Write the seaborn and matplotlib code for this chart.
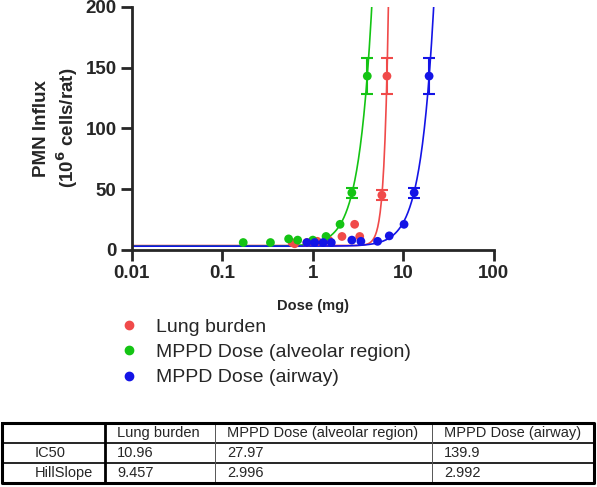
import numpy as np
import pandas as pd
import matplotlib
matplotlib.use("Agg")
import matplotlib.pyplot as plt
import seaborn as sns

# series names and colours
series = ["Lung burden", "MPPD Dose (alveolar region)", "MPPD Dose (airway)"]
colors = ["#F04A4A", "#14C414", "#1414E6"]

lung_x = [0.59, 0.63, 0.86, 1.12, 1.5, 2.1, 2.9, 3.3, 5.8, 6.6]
lung_y = [6, 5, 6, 7, 8, 11, 21, 11, 45, 143]
alv_x = [0.17, 0.34, 0.54, 0.68, 1.0, 1.4, 2.0, 2.7, 4.0]
alv_y = [6, 6, 9, 8, 8, 11, 21, 47, 143]
air_x = [0.86, 1.05, 1.3, 1.6, 2.7, 3.4, 5.2, 7.0, 10.2, 13.2, 19.3]
air_y = [6, 6, 6, 6, 8, 7, 7, 11.5, 21, 47, 143]

# error bars (SEM) on the high-dose groups
err_lung = [0, 0, 0, 0, 0, 0, 0, 0, 4, 15]
err_alv = [0, 0, 0, 0, 0, 0, 0, 4, 15]
err_air = [0, 0, 0, 0, 0, 0, 0, 0, 0, 4, 15]

# Hill fit parameters (IC50 and HillSlope from the table, bottom/top estimated)
ic50 = [10.96, 27.97, 139.9]
hill = [9.457, 2.996, 2.992]
bottom = [3.5, 3.0, 3.0]
top = [17000, 47700, 52300]

table_rows = ["IC50", "HillSlope"]
table_vals = [["10.96", "27.97", "139.9"], ["9.457", "2.996", "2.992"]]

sns.set_style("ticks")
plt.rcParams["font.family"] = ["Liberation Sans", "DejaVu Sans"]

fig = plt.figure(figsize=(5.97, 4.87), dpi=100)
ax = fig.add_axes([0.221, 0.487, 0.606, 0.499])

points = pd.concat([
    pd.DataFrame({"dose": lung_x, "pmn": lung_y, "err": err_lung, "group": series[0]}),
    pd.DataFrame({"dose": alv_x, "pmn": alv_y, "err": err_alv, "group": series[1]}),
    pd.DataFrame({"dose": air_x, "pmn": air_y, "err": err_air, "group": series[2]}),
])

# fitted curves
grid = np.logspace(-2, 2, 600)
curves = []
for name, c50, h, b, t in zip(series, ic50, hill, bottom, top):
    yy = b + (t - b) / (1 + (c50 / grid) ** h)
    curves.append(pd.DataFrame({"dose": grid, "pmn": yy, "group": name}))
curves = pd.concat(curves)
curves = curves[curves["pmn"] < 220]

palette = dict(zip(series, colors))
sns.lineplot(data=curves, x="dose", y="pmn", hue="group", palette=palette,
             linewidth=1.2, legend=False, ax=ax, sort=False, estimator=None,
             units="group")

for name in series:
    d = points[(points["group"] == name) & (points["err"] > 0)]
    ax.errorbar(d["dose"], d["pmn"], yerr=d["err"], fmt="none",
                ecolor=palette[name], elinewidth=1.5, capsize=4, capthick=1.5)

sns.scatterplot(data=points, x="dose", y="pmn", hue="group", palette=palette,
                s=40, edgecolor="none", ax=ax, legend=False, zorder=3)

ax.set_xscale("log")
ax.set_xlim(0.01, 100)
ax.set_ylim(0, 200)
ax.set_xticks([0.01, 0.1, 1, 10, 100])
ax.set_xticklabels(["0.01", "0.1", "1", "10", "100"])
ax.minorticks_off()
ax.set_yticks([0, 50, 100, 150, 200])
sns.despine(ax=ax)
for s in ["left", "bottom"]:
    ax.spines[s].set_linewidth(2)
ax.tick_params(width=2, length=8, labelsize=13.5, pad=3)
for lab in ax.get_xticklabels() + ax.get_yticklabels():
    lab.set_fontweight("bold")
ax.set_xlabel("Dose (mg)", fontsize=10.5, fontweight="bold", labelpad=12)
ax.set_ylabel("PMN Influx\n(10$^{\\mathbf{6}}$ cells/rat)", fontsize=13.5,
              fontweight="bold", linespacing=1.25, labelpad=4)

# legend
handles = [plt.Line2D([], [], marker="o", ls="none", color=c, markersize=6)
           for c in colors]
fig.legend(handles, series, loc="upper left", bbox_to_anchor=(0.2, 0.347),
           frameon=False, fontsize=14, handletextpad=0.9, labelspacing=0.4,
           handlelength=1.0, borderpad=0, borderaxespad=0)

# table
tax = fig.add_axes([0, 0, 1, 1])
tax.set_xlim(0, 597)
tax.set_ylim(487, 0)
tax.axis("off")
cols = [2, 105, 215, 432, 594]
rows = [423, 443, 463, 483]
header = [""] + series
for j, txt in enumerate(header):
    tax.text(cols[j] + 12, (rows[0] + rows[1]) / 2, txt, fontsize=10.5, va="center")
for i, rname in enumerate(table_rows):
    yc = (rows[i + 1] + rows[i + 2]) / 2
    tax.text(cols[0] + 33, yc, rname, fontsize=10.5, va="center")
    for j, v in enumerate(table_vals[i]):
        tax.text(cols[j + 1] + 12, yc, v, fontsize=10.5, va="center")
for y in rows[1:3]:
    tax.plot([cols[0], cols[-1]], [y, y], color="black", lw=1.2)
for x in cols[2:4]:
    tax.plot([x, x], [rows[0], rows[-1]], color="#555555", lw=0.7)
tax.plot([cols[1], cols[1]], [rows[0], rows[-1]], color="black", lw=2)
tax.plot([cols[0], cols[-1], cols[-1], cols[0], cols[0]],
         [rows[0], rows[0], rows[-1], rows[-1], rows[0]], color="black", lw=2.2)

fig.savefig("out.png", dpi=100)
